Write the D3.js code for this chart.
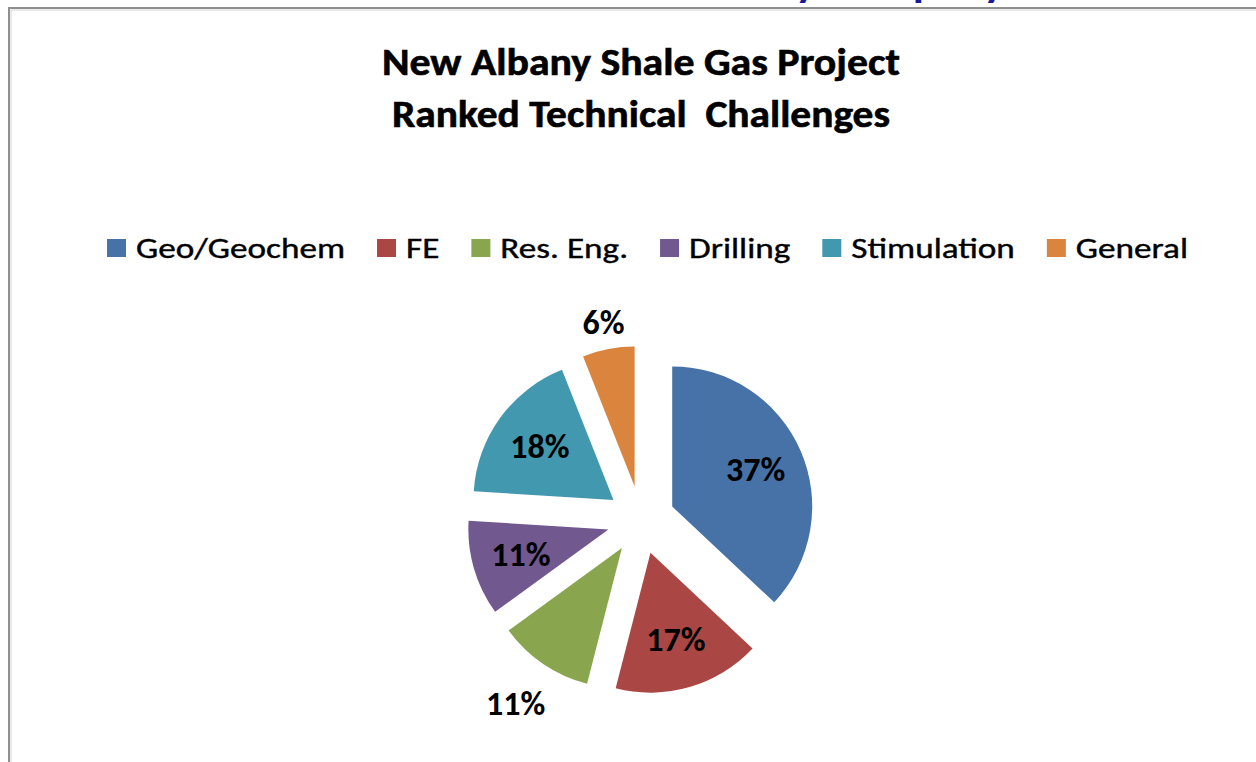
<!DOCTYPE html>
<html>
<head>
<meta charset="utf-8">
<script src="https://cdn.jsdelivr.net/npm/d3@7"></script>
<style>
  html, body { margin: 0; padding: 0; background: #fff; }
  text { font-family: Calibri, Carlito, Lato, "Open Sans", sans-serif; }
</style>
</head>
<body>
<div id="chart"></div>
<script>
var categories = ["Geo/Geochem", "FE", "Res. Eng.", "Drilling", "Stimulation", "General"],
    values = [37, 17, 11, 11, 18, 6],
    colors = ["#4672a8", "#aa4744", "#89a54e", "#71588f", "#4298af", "#db843d"],
    titleLines = ["New Albany Shale Gas Project", "Ranked Technical  Challenges"],
    headingFragment = "by Company";

var width = 1256, height = 762,
    cx = 641, cy = 520, radius = 140, explode = 34,
    insideLabel = 0.65,
    outsideLabel = { "Res. Eng.": 1.35, "General": 1.19 };

var svg = d3.select("#chart").append("svg")
    .attr("width", width)
    .attr("height", height)
    .style("display", "block");

// cut-off slide heading (only descenders show above the frame)
svg.append("text")
    .text(headingFragment)
    .attr("x", 771)
    .attr("y", -4)
    .attr("textLength", 234)
    .attr("lengthAdjust", "spacingAndGlyphs")
    .style("font-size", "46px")
    .style("font-weight", "bold")
    .style("fill", "#1a1a9c");

// chart frame
svg.append("path")
    .attr("d", "M9,762 V8 H1256")
    .attr("fill", "none")
    .attr("stroke", "#8f8f8f")
    .attr("stroke-width", 2);
svg.append("path")
    .attr("d", "M11,762 V10 H1256")
    .attr("fill", "none")
    .attr("stroke", "#d4d4d4")
    .attr("stroke-width", 1);

// title
var titleWidths = [518, 498];
svg.selectAll(".title")
    .data(titleLines)
    .enter().append("text")
    .attr("class", "title")
    .text(function(d) { return d; })
    .attr("x", cx)
    .attr("y", function(d, i) { return 75 + i * 52; })
    .attr("text-anchor", "middle")
    .attr("textLength", function(d, i) { return titleWidths[i]; })
    .attr("lengthAdjust", "spacingAndGlyphs")
    .style("white-space", "pre")
    .style("font-size", "38px")
    .style("font-weight", "900")
    .style("stroke", "#000")
    .style("stroke-width", 0.6)
    .style("fill", "#000");

// legend
var legend = svg.append("g").attr("class", "legend");
var items = legend.selectAll("g")
    .data(categories)
    .enter().append("g");
items.append("text")
    .text(function(d) { return d; })
    .attr("y", 258)
    .style("font-size", "29px")
    .style("fill", "#000")
    .style("stroke", "#000")
    .style("stroke-width", 0.4);
var natural = [];
items.select("text").each(function() { natural.push(this.getComputedTextLength()); });
var sq = 19, sqGap = 10, itemGap = 32, legendStart = 107, legendEnd = 1188;
var k = (legendEnd - legendStart - categories.length * (sq + sqGap) - (categories.length - 1) * itemGap) / d3.sum(natural);
var xpos = legendStart;
items.each(function(d, i) {
    var g = d3.select(this);
    g.insert("rect", "text")
        .attr("x", xpos)
        .attr("y", 239)
        .attr("width", sq)
        .attr("height", 18)
        .style("fill", colors[i]);
    g.select("text")
        .attr("x", xpos + sq + sqGap)
        .attr("textLength", natural[i] * k)
        .attr("lengthAdjust", "spacingAndGlyphs");
    xpos += sq + sqGap + natural[i] * k + itemGap;
});

// pie
var pie = d3.pie().sort(null).value(function(d) { return d; });
var arc = d3.arc().innerRadius(0).outerRadius(radius);
var arcs = pie(values);

function offset(a, dist) {
    var m = (a.startAngle + a.endAngle) / 2;
    return [Math.sin(m) * dist, -Math.cos(m) * dist];
}

var slices = svg.append("g")
    .attr("transform", "translate(" + cx + "," + cy + ")")
    .selectAll(".slice")
    .data(arcs)
    .enter().append("g")
    .attr("class", "slice")
    .attr("transform", function(d) {
        var o = offset(d, explode);
        return "translate(" + o[0] + "," + o[1] + ")";
    });

slices.append("path")
    .attr("d", arc)
    .style("fill", function(d, i) { return colors[i]; });

slices.append("text")
    .text(function(d) { return d.data + "%"; })
    .attr("x", function(d, i) {
        var f = outsideLabel[categories[i]] || insideLabel;
        return offset(d, radius * f)[0];
    })
    .attr("y", function(d, i) {
        var f = outsideLabel[categories[i]] || insideLabel;
        return offset(d, radius * f)[1] + 11;
    })
    .attr("text-anchor", "middle")
    .style("font-size", "34px")
    .style("font-weight", "bold")
    .style("fill", "#000");
</script>
</body>
</html>
